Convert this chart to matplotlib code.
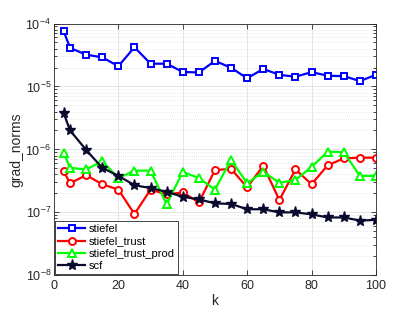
import matplotlib.pyplot as plt
from matplotlib.ticker import LogLocator, NullFormatter

k = [3, 5, 10, 15, 20, 25, 30, 35, 40, 45, 50, 55, 60, 65, 70, 75, 80, 85, 90, 95, 100]

stiefel = [7.6e-5, 4.1e-5, 3.2e-5, 2.9e-5, 2.1e-5, 4.2e-5, 2.3e-5, 2.3e-5, 1.7e-5, 1.67e-5,
           2.55e-5, 1.98e-5, 1.35e-5, 1.9e-5, 1.53e-5, 1.43e-5, 1.69e-5, 1.48e-5, 1.46e-5,
           1.22e-5, 1.53e-5]
stiefel_trust = [4.5e-7, 2.9e-7, 3.9e-7, 2.8e-7, 2.3e-7, 9.4e-8, 2.3e-7, 1.93e-7, 2.07e-7,
                 1.44e-7, 4.7e-7, 4.9e-7, 2.5e-7, 5.5e-7, 1.57e-7, 4.8e-7, 2.8e-7, 5.6e-7,
                 7.2e-7, 7.4e-7, 7.4e-7]
stiefel_trust_prod = [8.9e-7, 5.1e-7, 4.8e-7, 6.5e-7, 3.5e-7, 4.6e-7, 4.6e-7, 1.34e-7, 4.4e-7,
                      3.5e-7, 2.3e-7, 6.8e-7, 2.9e-7, 4.4e-7, 2.95e-7, 3.26e-7, 5.3e-7, 9.2e-7,
                      9.0e-7, 3.8e-7, 3.8e-7]
scf = [3.8e-6, 2.0e-6, 9.8e-7, 5.1e-7, 3.8e-7, 2.7e-7, 2.43e-7, 2.12e-7, 1.77e-7, 1.61e-7,
       1.39e-7, 1.36e-7, 1.12e-7, 1.12e-7, 1.0e-7, 1.0e-7, 9.3e-8, 8.3e-8, 8.3e-8, 7.4e-8, 7.6e-8]

plt.rcParams["font.family"] = ["Liberation Sans", "DejaVu Sans"]
plt.rcParams["font.size"] = 9

fig = plt.figure(figsize=(4.15, 3.12), dpi=100)
ax = fig.add_axes([0.130, 0.1176, 0.776, 0.807])

ax.plot(k, stiefel, color="#0000ff", lw=1.6, marker="s", ms=4.5, mfc="white", mew=1.4,
        label="stiefel")
ax.plot(k, stiefel_trust, color="#ff0000", lw=1.6, marker="o", ms=5, mfc="white", mew=1.4,
        label="stiefel_trust")
ax.plot(k, stiefel_trust_prod, color="#00ff00", lw=1.6, marker="^", ms=5.5, mfc="white", mew=1.4,
        label="stiefel_trust_prod")
ax.plot(k, scf, color="#0a0a2e", lw=1.6, marker="*", ms=8, label="scf")

ax.set_yscale("log")
ax.set_xlim(0, 100)
ax.set_ylim(1e-8, 1e-4)
ax.set_xticks([0, 20, 40, 60, 80, 100])
ax.yaxis.set_major_locator(LogLocator(base=10, numticks=10))
ax.yaxis.set_minor_locator(LogLocator(base=10, subs=range(2, 10), numticks=20))
ax.yaxis.set_minor_formatter(NullFormatter())

ax.grid(True, which="major", color="#e0e0e0", lw=0.6)
ax.grid(True, which="minor", axis="y", color="#d5d5d5", lw=0.5, linestyle=(0, (1, 2)))
ax.set_axisbelow(True)
ax.tick_params(which="both", direction="in", top=True, right=True, colors="#262626",
               labelcolor="#262626", width=0.6)
ax.tick_params(which="major", length=3.5)
ax.tick_params(which="minor", length=2)
ax.tick_params(axis="y", pad=2)
for s in ax.spines.values():
    s.set_color("#262626")
    s.set_linewidth(0.6)

ax.set_xlabel("k", color="#262626", fontsize=10, labelpad=1)
ax.set_ylabel("grad_norms", color="#262626", fontsize=10)
ax.yaxis.set_label_coords(-0.095, 0.5)

leg = ax.legend(loc="lower left", fancybox=False, fontsize=8, borderpad=0.3,
                labelspacing=0.2, handlelength=2.4, handletextpad=0.3, borderaxespad=0.1,
                framealpha=1)
leg.get_frame().set_edgecolor("#262626")
leg.get_frame().set_linewidth(0.6)

fig.savefig("out.png", dpi=100)
